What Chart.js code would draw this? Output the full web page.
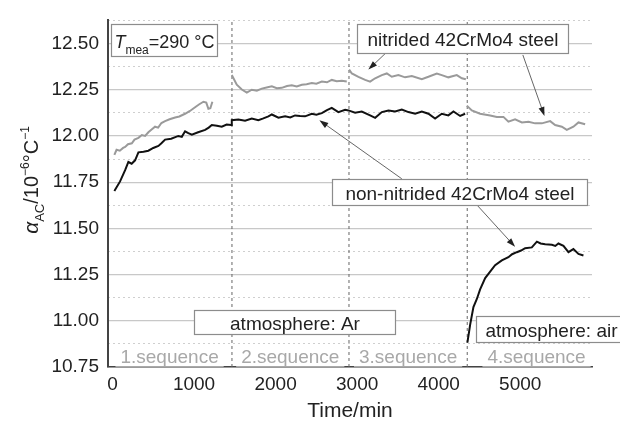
<!DOCTYPE html>
<html lang="en">
<head>
<meta charset="UTF-8">
<title>Thermal expansion coefficient vs time</title>
<script src="https://cdn.jsdelivr.net/npm/chart.js@4.4.1/dist/chart.umd.min.js"></script>
<style>
    html, body { margin: 0; padding: 0; background: #fff; }
    .chart-box { width: 620px; height: 423px; position: relative; }
</style>
</head>
<body>
<div class="chart-box"><canvas id="chart"></canvas></div>
<script>
    // time in min, alpha in 10^-6 / °C ; null = gap between sequences
    const nitridedTime = [23, 50, 90, 130, 155, 190, 237, 270, 318, 360, 400, 440, 480, 522, 560, 600, 645, 700, 768, 820, 890, 950, 1013, 1060, 1115, 1150, 1176, 1200, 1225,
        1340,
        1463, 1524, 1586, 1647, 1708, 1770, 1831, 1890, 1954, 2015, 2076, 2140, 2199, 2260, 2322, 2380, 2444, 2500, 2567, 2630, 2689, 2750, 2812, 2873,
        2888,
        2902, 2935, 3016, 3098, 3159, 3221, 3303, 3364, 3425, 3506, 3588, 3671, 3793, 3874, 3977, 4038, 4119, 4222, 4284, 4333,
        4340,
        4345, 4406, 4508, 4631, 4713, 4794, 4855, 4937, 5020, 5101, 5183, 5265, 5367, 5428, 5510, 5571, 5652, 5714, 5796];
    const nitridedValue = [11.897, 11.925, 11.92, 11.935, 11.94, 11.955, 11.96, 11.98, 11.99, 12.005, 12.0, 12.02, 12.035, 12.05, 12.045, 12.07, 12.08, 12.09, 12.10, 12.105, 12.12, 12.135, 12.155, 12.17, 12.185, 12.18, 12.147, 12.15, 12.185,
        null,
        12.33, 12.277, 12.251, 12.234, 12.25, 12.245, 12.256, 12.262, 12.268, 12.258, 12.26, 12.27, 12.274, 12.268, 12.277, 12.28, 12.286, 12.283, 12.294, 12.29, 12.303, 12.296, 12.298, 12.294,
        null,
        12.359, 12.338, 12.32, 12.303, 12.294, 12.312, 12.329, 12.338, 12.32, 12.329, 12.317, 12.324, 12.307, 12.32, 12.338, 12.329, 12.317, 12.329, 12.312, 12.307,
        null,
        12.164, 12.138, 12.12, 12.111, 12.103, 12.103, 12.077, 12.09, 12.073, 12.077, 12.068, 12.068, 12.08, 12.059, 12.05, 12.033, 12.05, 12.073, 12.063];

    const nonNitridedTime = [23, 93, 155, 195, 235, 277, 318, 380, 440, 500, 563, 600, 645, 720, 808, 850, 890, 930, 973, 1050, 1136, 1180, 1218, 1280, 1340, 1400, 1455,
        1463, 1544, 1626, 1708, 1789, 1850, 1912, 1954, 2035, 2117, 2180, 2239, 2300, 2362, 2444, 2500, 2567, 2630, 2689, 2770, 2853,
        2893, 2975, 3057, 3159, 3221, 3303, 3384, 3466, 3548, 3629, 3711, 3793, 3874, 3956, 4038, 4119, 4181, 4263, 4324,
        4340,
        4352, 4386, 4426, 4468, 4508, 4570, 4631, 4692, 4774, 4855, 4900, 4958, 5010, 5060, 5142, 5204, 5250, 5306, 5388, 5430, 5468, 5530, 5591, 5652, 5714, 5775];
    const nonNitridedValue = [11.702, 11.754, 11.815, 11.859, 11.85, 11.868, 11.911, 11.915, 11.92, 11.935, 11.946, 11.96, 11.98, 11.985, 12.0, 11.995, 12.025, 12.015, 12.007, 12.02, 12.033, 12.045, 12.059, 12.055, 12.05, 12.062, 12.059,
        12.085, 12.089, 12.082, 12.094, 12.085, 12.095, 12.106, 12.116, 12.099, 12.106, 12.1, 12.111, 12.108, 12.106, 12.12, 12.115, 12.123, 12.14, 12.152, 12.129, 12.141,
        12.138, 12.126, 12.132, 12.111, 12.098, 12.129, 12.138, 12.132, 12.143, 12.129, 12.12, 12.132, 12.12, 12.094, 12.12, 12.111, 12.132, 12.108, 12.12,
        null,
        10.882, 10.979, 11.074, 11.118, 11.17, 11.231, 11.266, 11.301, 11.327, 11.344, 11.36, 11.371, 11.38, 11.393, 11.397, 11.428, 11.418, 11.414, 11.411, 11.405, 11.418, 11.405, 11.371, 11.388, 11.362, 11.353];

    const sequenceBounds = [1465, 2900, 4350];
    const sequenceLabels = ['1.sequence', '2.sequence', '3.sequence', '4.sequence'];
    const sequenceLabelAt = [700, 2180, 3625, 5200];

    const xTicks = [0, 1000, 2000, 3000, 4000, 5000];
    const xMin = -55, xMax = 5880;
    const yMin = 10.75, yMax = 12.625, yStep = 0.25;

    const fontFamily = '"Liberation Sans", Arial, Helvetica, sans-serif';
    const textColor = '#222';

    // boxes and arrows, in data units
    const noteBoxes = [
        { parts: [{ t: 'T', italic: true, size: 18 }, { t: 'mea', size: 12, dy: 6 }, { t: '=290 °C', size: 18 }], x0: -21, x1: 1279, y0: 12.603, y1: 12.430 },
        { parts: [{ t: 'nitrided 42CrMo4 steel' }], x0: 3003, x1: 5591, y0: 12.603, y1: 12.451 },
        { parts: [{ t: 'non-nitrided 42CrMo4 steel' }], x0: 2689, x1: 5817, y0: 11.768, y1: 11.627 },
        { parts: [{ t: 'atmosphere: Ar' }], x0: 1001, x1: 3466, y0: 11.060, y1: 10.926 },
        { parts: [{ t: 'atmosphere: air' }], x0: 4459, x1: 6400, y0: 11.026, y1: 10.886, left: true }
    ];
    const noteArrows = [
        { from: [3355, 12.450], to: [3138, 12.359] },
        { from: [5032, 12.438], to: [5297, 12.108] },
        { from: [3548, 11.768], to: [2537, 12.085] },
        { from: [4468, 11.627], to: [4937, 11.400] }
    ];

    function isMajor(v) {
        return Math.abs(v / yStep - Math.round(v / yStep)) < 1e-6;
    }

    function toPoints(times, values) {
        return times.map((t, i) => ({ x: t, y: values[i] }));
    }

    function drawRich(ctx, parts, x, y, align) {
        let total = 0;
        parts.forEach(p => {
            ctx.font = (p.italic ? 'italic ' : '') + (p.size || 19) + 'px ' + fontFamily;
            p.w = ctx.measureText(p.t).width;
            total += p.w;
        });
        let cx = align === 'center' ? x - total / 2 : x;
        parts.forEach(p => {
            ctx.font = (p.italic ? 'italic ' : '') + (p.size || 19) + 'px ' + fontFamily;
            ctx.fillText(p.t, cx, y + (p.dy || 0));
            cx += p.w;
        });
    }

    const notesPlugin = {
        id: 'notes',
        beforeDatasetsDraw(chart) {
            const { ctx, scales } = chart;
            const xs = scales.x, ys = scales.y;
            ctx.save();
            ctx.font = '19px ' + fontFamily;
            ctx.textAlign = 'center';
            ctx.textBaseline = 'alphabetic';
            const cy = ys.getPixelForValue(10.812);
            sequenceLabels.forEach((label, i) => {
                const cx = xs.getPixelForValue(sequenceLabelAt[i]);
                const w = ctx.measureText(label).width + 10;
                ctx.fillStyle = '#fff';
                ctx.fillRect(cx - w / 2, cy - 11, w, 22);
                ctx.fillStyle = '#a8a8a8';
                ctx.fillText(label, cx, cy + 7);
            });
            ctx.restore();
        },
        afterDatasetsDraw(chart) {
            const { ctx, scales } = chart;
            const xs = scales.x, ys = scales.y;
            ctx.save();
            // arrows
            noteArrows.forEach(a => {
                const x1 = xs.getPixelForValue(a.from[0]), y1 = ys.getPixelForValue(a.from[1]);
                const x2 = xs.getPixelForValue(a.to[0]), y2 = ys.getPixelForValue(a.to[1]);
                const ang = Math.atan2(y2 - y1, x2 - x1);
                ctx.strokeStyle = '#555';
                ctx.lineWidth = 0.9;
                ctx.beginPath();
                ctx.moveTo(x1, y1);
                ctx.lineTo(x2 - Math.cos(ang) * 6, y2 - Math.sin(ang) * 6);
                ctx.stroke();
                ctx.fillStyle = '#222';
                ctx.beginPath();
                ctx.moveTo(x2, y2);
                ctx.lineTo(x2 - Math.cos(ang) * 9 + Math.sin(ang) * 3, y2 - Math.sin(ang) * 9 - Math.cos(ang) * 3);
                ctx.lineTo(x2 - Math.cos(ang) * 9 - Math.sin(ang) * 3, y2 - Math.sin(ang) * 9 + Math.cos(ang) * 3);
                ctx.closePath();
                ctx.fill();
            });
            // boxes
            noteBoxes.forEach(b => {
                const px0 = Math.round(xs.getPixelForValue(b.x0)) + 0.5;
                const px1 = Math.round(xs.getPixelForValue(b.x1)) + 0.5;
                const py0 = Math.round(ys.getPixelForValue(b.y0)) + 0.5;
                const py1 = Math.round(ys.getPixelForValue(b.y1)) + 0.5;
                ctx.fillStyle = '#fff';
                ctx.fillRect(px0, py0, px1 - px0, py1 - py0);
                ctx.strokeStyle = '#8c8c8c';
                ctx.lineWidth = 1.2;
                ctx.strokeRect(px0, py0, px1 - px0, py1 - py0);
                ctx.fillStyle = textColor;
                ctx.textAlign = 'left';
                ctx.textBaseline = 'alphabetic';
                const base = (py0 + py1) / 2 + 7;
                if (b.left) {
                    drawRich(ctx, b.parts, px0 + 9, base, 'left');
                } else {
                    drawRich(ctx, b.parts, (px0 + px1) / 2, base, 'center');
                }
            });
            ctx.restore();
        },
        afterDraw(chart) {
            const { ctx } = chart;
            // y axis title: alpha_AC / 10^-6 °C^-1
            const parts = [
                { t: 'α', size: 21, italic: true },
                { t: 'AC', size: 13, dy: 6 },
                { t: '/10', size: 20 },
                { t: '−6', size: 12, dy: -9 },
                { t: '°C', size: 20 },
                { t: '−1', size: 12, dy: -9 }
            ];
            ctx.save();
            ctx.translate(38, 180);
            ctx.rotate(-Math.PI / 2);
            ctx.fillStyle = textColor;
            ctx.textAlign = 'left';
            ctx.textBaseline = 'alphabetic';
            drawRich(ctx, parts, 0, 0, 'center');
            ctx.restore();
        }
    };

    const datasets = [
        {
            label: 'nitrided 42CrMo4 steel',
            data: toPoints(nitridedTime, nitridedValue),
            borderColor: '#9a9a9a',
            borderWidth: 2,
            showLine: true,
            spanGaps: false,
            pointRadius: 0,
            order: 2
        },
        {
            label: 'non-nitrided 42CrMo4 steel',
            data: toPoints(nonNitridedTime, nonNitridedValue),
            borderColor: '#111',
            borderWidth: 2,
            showLine: true,
            spanGaps: false,
            pointRadius: 0,
            order: 1
        }
    ];
    sequenceBounds.forEach(b => {
        datasets.push({
            label: 'bound',
            data: [{ x: b, y: yMin }, { x: b, y: yMax }],
            borderColor: '#666',
            borderWidth: 1,
            borderDash: [3, 3],
            showLine: true,
            pointRadius: 0,
            order: 3
        });
    });

    new Chart(document.getElementById('chart'), {
        type: 'scatter',
        data: { datasets: datasets },
        options: {
            responsive: true,
            maintainAspectRatio: false,
            animation: false,
            devicePixelRatio: 1,
            layout: { padding: { left: 0, top: 8, right: 28, bottom: 0 } },
            plugins: {
                legend: { display: false },
                tooltip: { enabled: false }
            },
            scales: {
                x: {
                    type: 'linear',
                    min: xMin,
                    max: xMax,
                    afterBuildTicks(s) { s.ticks = xTicks.map(v => ({ value: v })); },
                    ticks: {
                        autoSkip: false,
                        callback: v => String(v),
                        font: { size: 19, family: fontFamily },
                        color: textColor,
                        padding: 6,
                        maxRotation: 0
                    },
                    grid: { display: false, drawTicks: false },
                    border: { color: '#444', width: 1.5 },
                    title: {
                        display: true,
                        text: 'Time/min',
                        font: { size: 21, family: fontFamily, lineHeight: 1 },
                        color: textColor,
                        padding: { top: 0, bottom: 1 }
                    },
                    afterFit(s) { s.height = 56; }
                },
                y: {
                    position: 'left',
                    min: yMin,
                    max: yMax,
                    ticks: {
                        stepSize: yStep / 2,
                        autoSkip: false,
                        callback: v => isMajor(v) ? v.toFixed(2) : '',
                        font: { size: 19, family: fontFamily },
                        color: textColor,
                        padding: 9
                    },
                    grid: {
                        drawTicks: false,
                        lineWidth: 1.2,
                        color: c => isMajor(c.tick.value) ? '#c8c8c8' : 'rgba(0,0,0,0)'
                    },
                    border: { color: '#444', width: 2 },
                    afterFit(s) { s.width = 108; }
                },
                yMinor: {
                    position: 'left',
                    min: yMin,
                    max: yMax,
                    ticks: { stepSize: yStep / 2, display: false, autoSkip: false },
                    grid: {
                        drawTicks: false,
                        lineWidth: 1,
                        color: c => isMajor(c.tick.value) ? 'rgba(0,0,0,0)' : '#cfcfcf'
                    },
                    border: { display: false, dash: [2, 3] },
                    afterFit(s) { s.width = 0; }
                }
            }
        },
        plugins: [notesPlugin]
    });
</script>
</body>
</html>
